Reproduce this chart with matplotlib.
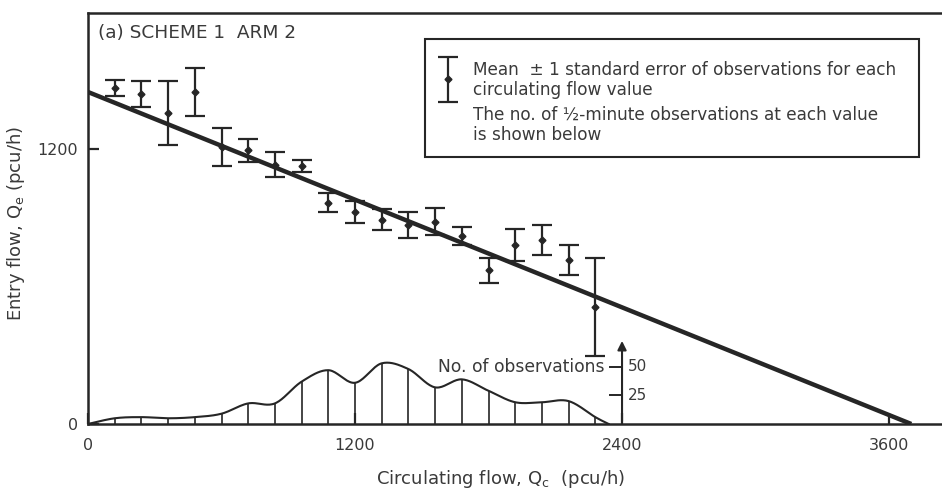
import matplotlib
matplotlib.use('Agg')
import matplotlib.pyplot as plt
import numpy as np
from matplotlib.patches import Rectangle

plt.rcParams['font.family'] = ['DejaVu Sans']

# circulating flow values (pcu/h) and mean entry flow +/- 1 s.e.
circ_flow = [120, 240, 360, 480, 600, 720, 840, 960, 1080, 1200,
             1320, 1440, 1560, 1680, 1800, 1920, 2040, 2160, 2280]
entry_mean = [1467, 1441, 1358, 1450, 1210, 1196, 1133, 1127, 967, 926,
              893, 869, 884, 821, 672, 782, 803, 716, 511]
entry_se = [35, 55, 140, 105, 83, 50, 55, 26, 41, 48,
            46, 57, 59, 39, 55, 68, 65, 65, 212]
# number of half-minute observations at each value
n_obs = [5, 6, 5, 6, 9, 18, 18, 37, 47, 36,
         53, 48, 32, 39, 29, 19, 19, 20, 6]

# fitted line: entry flow at zero circulating flow, and capacity intercept
fit_qe0 = 1450
fit_qc0 = 3700

obs_scale = 5.0          # pcu/h of y-axis per observation
hist_end = 2340          # where the count curve returns to zero
count_ticks = [25, 50]
count_axis_top = 75

key_lines = [u'Mean  \u00b1 1 standard error of observations for each',
             u'circulating flow value',
             u'The no. of \u00bd-minute observations at each value',
             u'is shown below']

ink = '#262626'
txt = '#3a3a3a'


def catmull_rom(xs, ys, n=20):
    xs = np.asarray(xs, float)
    ys = np.asarray(ys, float)
    px = np.concatenate([[xs[0]], xs, [xs[-1]]])
    py = np.concatenate([[ys[0]], ys, [ys[-1]]])
    out_x, out_y = [], []
    t = np.linspace(0, 1, n, endpoint=False)
    for i in range(1, len(px) - 2):
        for p, out in ((px, out_x), (py, out_y)):
            p0, p1, p2, p3 = p[i - 1], p[i], p[i + 1], p[i + 2]
            out.extend(0.5 * (2 * p1 + (-p0 + p2) * t
                              + (2 * p0 - 5 * p1 + 4 * p2 - p3) * t ** 2
                              + (-p0 + 3 * p1 - 3 * p2 + p3) * t ** 3))
    out_x.append(xs[-1])
    out_y.append(ys[-1])
    return np.array(out_x), np.array(out_y)


fig = plt.figure(figsize=(9.42, 4.96), dpi=100)
ax = fig.add_axes([88 / 942, 72 / 496, 854 / 942, 411 / 496])
ax.set_xlim(0, 3838)
ax.set_ylim(0, 1795)

# fitted straight line
ax.plot([0, fit_qc0], [fit_qe0, 0], color=ink, lw=3.2, solid_capstyle='butt', zorder=3)

# means with error bars
ax.errorbar(circ_flow, entry_mean, yerr=entry_se, fmt='D', ms=3.5, color=ink,
            ecolor=ink, elinewidth=1.6, capsize=7, capthick=1.6, zorder=4)

# distribution of observations
hx = [0] + circ_flow + [hist_end]
hy = [0] + [n * obs_scale for n in n_obs] + [0]
sx, sy = catmull_rom(hx, hy)
ax.plot(sx, np.clip(sy, 0, None), color=ink, lw=1.5, zorder=2)
ax.vlines(circ_flow, 0, [n * obs_scale for n in n_obs], color=ink, lw=1.2, zorder=2)

# count axis
ax.annotate('', xy=(2400, count_axis_top * obs_scale), xytext=(2400, 0),
            arrowprops=dict(arrowstyle='-|>', color=ink, lw=1.5, mutation_scale=13))
for c in count_ticks:
    ax.plot([2400 - 55, 2400], [c * obs_scale] * 2, color=ink, lw=1.4)
    ax.text(2425, c * obs_scale, str(c), fontsize=11, color=txt, va='center', ha='left')
ax.text(2320, count_ticks[-1] * obs_scale, 'No. of observations', fontsize=12.3,
        color=txt, va='center', ha='right')

# key box
ax.add_patch(Rectangle((1515, 1166), 2220, 515, fill=False, ec=ink, lw=1.5, zorder=5))
ax.errorbar([1618], [1505], yerr=[98], fmt='D', ms=3.5, color=ink, elinewidth=1.6,
            capsize=7, capthick=1.6, zorder=5)
for line, yy in zip(key_lines, [1546, 1459, 1349, 1262]):
    ax.text(1730, yy, line, fontsize=12.2, color=txt, va='center', ha='left')

ax.text(45, 1707, '(a) SCHEME 1  ARM 2', fontsize=13.3, color=txt, va='center', ha='left')

# axes styling
ax.spines['right'].set_visible(False)
for s in ('left', 'top', 'bottom'):
    ax.spines[s].set_linewidth(1.8)
    ax.spines[s].set_color(ink)
ax.set_xticks([0, 1200, 2400, 3600])
ax.set_yticks([0, 1200])
ax.tick_params(direction='in', length=8, width=1.6, colors=ink, labelcolor=txt,
               labelsize=11.5)
ax.tick_params(axis='x', pad=10)
ax.tick_params(axis='y', pad=7)
ax.set_xlabel(r'Circulating flow, Q$_\mathrm{c}$  (pcu/h)', fontsize=13, color=txt)
ax.set_ylabel(r'Entry flow, Q$_\mathrm{e}$ (pcu/h)', fontsize=13, color=txt)
ax.xaxis.set_label_coords(0.4836, -0.108)
ax.yaxis.set_label_coords(-0.071, 0.487)

fig.savefig('out.png', dpi=100)
